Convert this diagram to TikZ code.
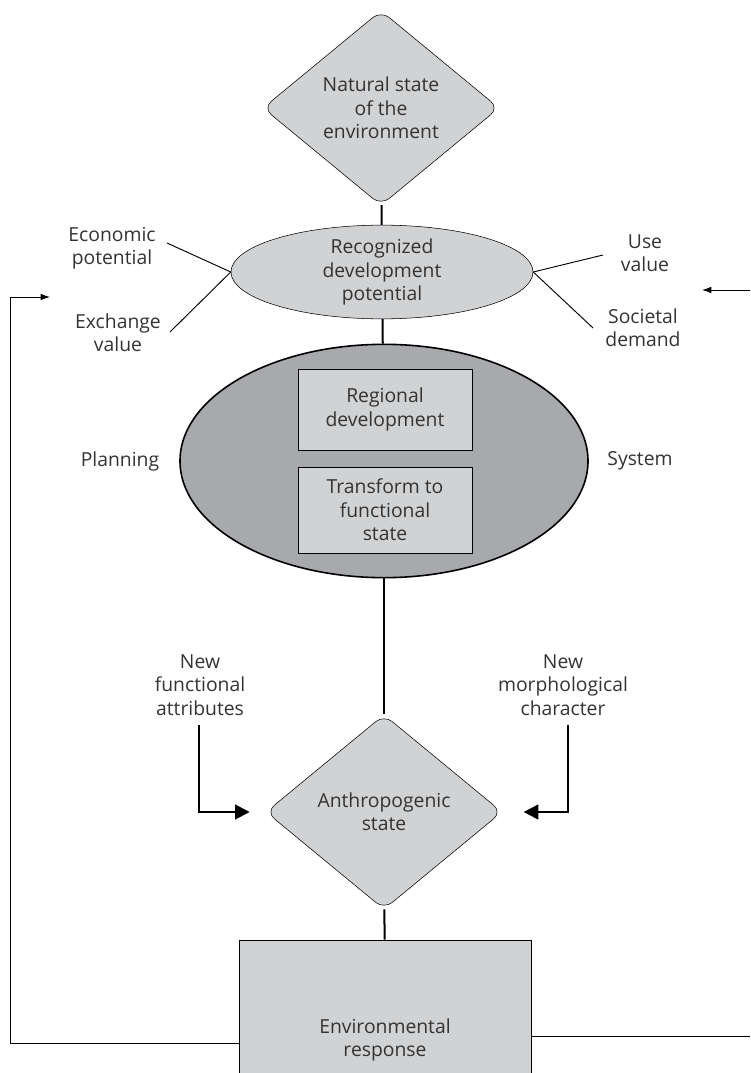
\documentclass[tikz,border=0pt]{standalone}
\usepackage{fontspec}
\setmainfont{Open Sans}
\usetikzlibrary{shapes.geometric,arrows.meta}
\definecolor{lightfill}{HTML}{D1D2D4}
\definecolor{darkfill}{HTML}{A7A9AC}
\definecolor{txt}{HTML}{333333}
\begin{document}
\begin{tikzpicture}[x=0.75pt,y=-0.75pt]
        \tikzstyle{every node}=[font=\fontsize{14.5}{17.6}\selectfont, text=txt, align=center]
        \tikzstyle{dia}=[diamond, draw, fill=lightfill, rounded corners=8pt, inner sep=0pt, minimum width=177pt, minimum height=146pt]
        \tikzstyle{oval}=[ellipse, draw, inner sep=0pt]
        \tikzstyle{box}=[rectangle, draw, fill=lightfill, inner sep=0pt, minimum width=130.5pt]
        \tikzstyle{link}=[line width=1.5pt]
        \tikzstyle{side}=[line width=0.7pt]
        \tikzstyle{elbow}=[line width=1.5pt, -{Triangle[length=11pt,width=11pt]}]
        \useasboundingbox (0,0) rectangle (750,1073);

        \node[dia] (nat) at (381,108) {Natural state\\of the\\environment};
        \node[oval, fill=lightfill, minimum width=226.5pt, minimum height=67.5pt] (rdp) at (382,272) {Recognized\\development\\potential};
        \node[oval, fill=darkfill, line width=1.2pt, minimum width=306pt, minimum height=175pt] (sys) at (384,461) {};
        \node[box, minimum height=60.75pt] (reg) at (385,409.5) {Regional\\development};
        \node[box, minimum height=64.5pt] (trf) at (385,510) {Transform to\\functional\\state};
        \node[dia] (anth) at (384,812) {Anthropogenic\\state};
        \node[box, minimum width=219pt, minimum height=150pt] (env) at (385,1040) {Environmental\\response};

        \node (econ) at (112,248) {Economic\\potential};
        \node (exch) at (118,333) {Exchange\\value};
        \node (use) at (645,253) {Use\\value};
        \node (soc) at (643,328) {Societal\\demand};
        \node (plan) at (120,461) {Planning};
        \node (syst) at (640,461) {System};
        \node (nfa) at (200,685) {New\\functional\\attributes};
        \node (nmc) at (563,685) {New\\morphological\\character};

        \coordinate (econend) at (167,243);
        \coordinate (exchend) at (170,332);
        \coordinate (useend) at (603,255);
        \coordinate (socend) at (593,328);
        \coordinate (fastart) at (199,725);
        \coordinate (nmstart) at (568,725);
        \coordinate (fbleft) at (10,297);
        \coordinate (fbtip) at (50,297);
        \coordinate (fbbase) at (10,1043);
        \coordinate (fbright) at (750,1036);
        \coordinate (inright) at (750,290);
        \coordinate (intip) at (702,290);

        \draw[link] (nat) -- (rdp);
        \draw[link] (rdp) -- (sys);
        \draw[link] (sys) -- (anth);
        \draw[link] (anth) -- (env);
        \draw[side] (econend) -- (rdp.west);
        \draw[side] (exchend) -- (rdp.west);
        \draw[side] (useend) -- (rdp.east);
        \draw[side] (socend) -- (rdp.east);
        \draw[elbow] (fastart) |- ([xshift=-12pt]anth.west);
        \draw[elbow] (nmstart) |- ([xshift=16pt]anth.east);
        \draw[side, -{Latex[length=7pt,width=5pt]}] (env.west |- fbbase) -- (fbbase) -- (fbleft) -- (fbtip);
        \draw[side] (env.east |- fbright) -- (fbright);
        \draw[side, -{Latex[length=7pt,width=5pt]}] (inright) -- (intip);
\end{tikzpicture}
\end{document}
